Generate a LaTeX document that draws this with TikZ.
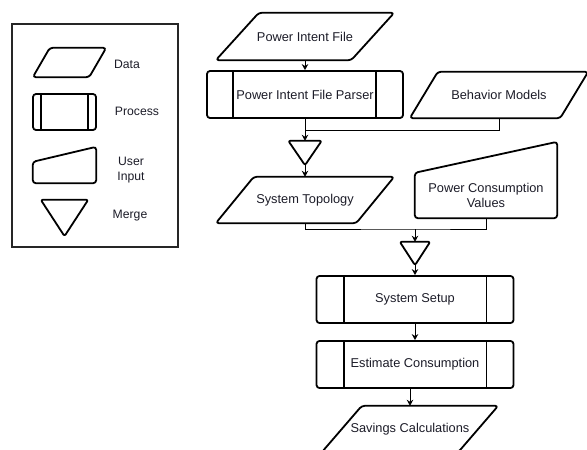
\documentclass[tikz,border=0pt]{standalone}
\usepackage{fontspec}
\setmainfont{Liberation Sans}
\usetikzlibrary{arrows.meta}
\definecolor{ink}{HTML}{1C1C28}
\begin{document}
\begin{tikzpicture}[x=1pt,y=-1pt,
  slot/.style 2 args={rectangle, inner sep=0pt, minimum width=#1, minimum height=#2},
  outline/.style={draw=black, line width=1.8pt, rounded corners=3pt, line join=round},
  divider/.style={draw=black, line width=1.8pt},
  wire/.style={draw=black, line width=1pt},
  flow/.style={wire, -{Stealth[length=6pt,width=6.5pt]}},
  txt/.style={font=\fontsize{12.8}{15.5}\selectfont, text=ink, align=center},
  legtxt/.style={font=\fontsize{12.2}{14.5}\selectfont, text=ink, align=center},
]
\useasboundingbox (0,0) rectangle (587,450);

% ---------- legend ----------
\node[slot={166pt}{223pt}, draw=black!85, line width=1.1pt] (legend) at (95,135.5) {};

\node[slot={73pt}{29pt}] (kdata) at (69.5,62.5) {};
\draw[outline] ([xshift=17pt]kdata.north west) -- (kdata.north east)
  -- ([xshift=-17pt]kdata.south east) -- (kdata.south west) -- cycle;
\node[legtxt] (kdatat) at (127,64) {Data};

\node[slot={63pt}{36pt}, outline] (kproc) at (64.5,112) {};
\draw[divider] ([xshift=9pt]kproc.north west) -- ([xshift=9pt]kproc.south west);
\draw[divider] ([xshift=-9pt]kproc.north east) -- ([xshift=-9pt]kproc.south east);
\node[legtxt] (kproct) at (137,111) {Process};

\node[slot={63pt}{36pt}] (kuser) at (64.5,165) {};
\draw[outline] ([yshift=-15pt]kuser.north west) -- (kuser.north east)
  -- (kuser.south east) -- (kuser.south west) -- cycle;
\node[legtxt] (kusert) at (131,170) {User\\Input};

\node[slot={47pt}{36pt}] (kmerge) at (64.5,218) {};
\draw[outline, rounded corners=2pt] (kmerge.north west) -- (kmerge.north east) -- (kmerge.south) -- cycle;
\node[legtxt] (kmerget) at (130,216) {Merge};

% ---------- flow ----------
\node[slot={178pt}{47pt}, txt] (pif) at (305,36.5) {Power Intent File};
\draw[outline] ([xshift=43pt]pif.north west) -- (pif.north east)
  -- ([xshift=-43pt]pif.south east) -- (pif.south west) -- cycle;

\node[slot={196pt}{47pt}, outline, txt] (parser) at (305,94.5) {Power Intent File Parser};
\draw[divider] ([xshift=27pt]parser.north west) -- ([xshift=27pt]parser.south west);
\draw[divider] ([xshift=-28pt]parser.north east) -- ([xshift=-28pt]parser.south east);

\node[slot={178pt}{46pt}, txt] (bm) at (499,95) {Behavior Models};
\draw[outline] ([xshift=28pt]bm.north west) -- (bm.north east)
  -- ([xshift=-28pt]bm.south east) -- (bm.south west) -- cycle;

\node[slot={33pt}{24pt}] (merge1) at (305,153) {};
\draw[outline, rounded corners=2pt] (merge1.north west) -- (merge1.north east) -- (merge1.south) -- cycle;

\node[slot={178pt}{46pt}, txt] (topo) at (305,200) {System Topology};
\draw[outline] ([xshift=38pt]topo.north west) -- (topo.north east)
  -- ([xshift=-38pt]topo.south east) -- (topo.south west) -- cycle;

\node[slot={142pt}{76pt}] (pcv) at (486,180) {};
\draw[outline] ([yshift=-31pt]pcv.north west) -- (pcv.north east)
  -- (pcv.south east) -- (pcv.south west) -- cycle;
\node[txt] (pcvt) at (486,195.5) {Power Consumption\\Values};

\node[slot={30pt}{23pt}] (merge2) at (415,253.5) {};
\draw[outline, rounded corners=2pt] (merge2.north west) -- (merge2.north east) -- (merge2.south) -- cycle;

\node[slot={197pt}{47pt}, outline, txt] (setup) at (415,299.5) {System Setup};
\draw[divider] ([xshift=28pt]setup.north west) -- ([xshift=28pt]setup.south west);
\draw[divider] ([xshift=-28pt]setup.north east) -- ([xshift=-28pt]setup.south east);

\node[slot={197pt}{47pt}, outline, txt] (est) at (415,364.5) {Estimate Consumption};
\draw[divider] ([xshift=28pt]est.north west) -- ([xshift=28pt]est.south west);
\draw[divider] ([xshift=-28pt]est.north east) -- ([xshift=-28pt]est.south east);

\node[slot={176pt}{46pt}, txt] (sav) at (410,429) {Savings Calculations};
\draw[outline] ([xshift=40pt]sav.north west) -- (sav.north east)
  -- ([xshift=-40pt]sav.south east) -- (sav.south west) -- cycle;

% ---------- connectors ----------
\coordinate (j1) at (305,130);
\coordinate (j2) at (415,229);

\draw[flow] (pif.south) -- (parser.north);
\draw[flow] (parser.south) -- (merge1.north);
\draw[wire] (bm.south) |- (j1);
\draw[flow] (merge1.south) -- (topo.north);
\draw[wire] (topo.south) |- (j2) -| (pcv.south);
\draw[flow] (j2) -- (merge2.north);
\draw[flow] (merge2.south) -- (setup.north);
\draw[flow] (setup.south) -- (est.north);
\draw[flow] (sav.north |- est.south) -- (sav.north);
\end{tikzpicture}
\end{document}
